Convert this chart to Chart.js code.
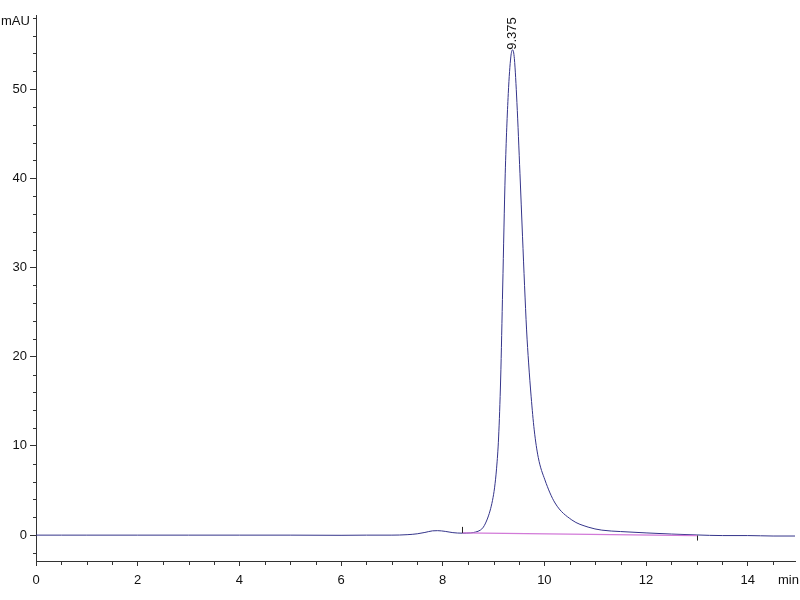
<!DOCTYPE html>
<html><head><meta charset="utf-8">
<script src="https://cdn.jsdelivr.net/npm/chart.js@4/dist/chart.umd.min.js"></script>
<style>html,body{margin:0;padding:0;background:#fff}#wrap{width:800px;height:600px}</style>
</head><body><div id="wrap"><canvas id="c" width="800" height="600"></canvas></div>
<script>
// Retention time (min) and signal (mAU)
const timeMin = [0, 0.5, 1, 2, 3, 4, 5, 6, 6.5, 7.0, 7.3, 7.5, 7.65, 7.8, 7.9, 8.05, 8.2, 8.38, 8.55, 8.65, 8.74, 8.8, 8.87, 8.93, 8.98, 9.02, 9.06, 9.1, 9.14, 9.18, 9.23, 9.29, 9.34, 9.375, 9.41, 9.46, 9.52, 9.57, 9.61, 9.65, 9.69, 9.74, 9.8, 9.88, 10.01, 10.21, 10.54, 10.86, 11.13, 11.5, 12.0, 12.5, 13.0, 13.5, 14.0, 14.5, 14.93];
const signal  = [0, 0, 0, 0, 0, 0, 0, -0.02, 0, 0, 0.05, 0.15, 0.3, 0.48, 0.5, 0.42, 0.28, 0.22, 0.25, 0.35, 0.56, 0.9, 1.7, 2.7, 3.9, 5.3, 7.5, 11.0, 17.5, 27.7, 40.5, 49.5, 53.6, 54.4, 53.4, 48.5, 40.5, 33.5, 28.0, 23.0, 19.3, 15.5, 11.8, 8.7, 6.2, 3.6, 1.7, 0.9, 0.56, 0.4, 0.25, 0.12, 0.02, -0.05, -0.05, -0.1, -0.1];
const baselineTime = [8.38, 13.0];
const baselineSignal = [0.25, -0.05];
const peakTimes = [9.375];
const peakLabels = ['9.375'];
const xMajorTicks = [0, 2, 4, 6, 8, 10, 12, 14];
const yMajorTicks = [0, 10, 20, 30, 40, 50];
const xUnit = 'min';
const yUnit = 'mAU';

const FONT = '"Liberation Sans Narrow", "Liberation Sans", Arial, sans-serif';
const mainData = timeMin.map((t, i) => ({x: t, y: signal[i]}));
const baseData = baselineTime.map((t, i) => ({x: t, y: baselineSignal[i]}));

const extras = {
  id: 'extras',
  afterDraw(chart) {
    const ctx = chart.ctx, xs = chart.scales.x, ys = chart.scales.y;
    const area = chart.chartArea;
    ctx.save();
    ctx.strokeStyle = '#333';
    ctx.lineWidth = 1;
    // minor ticks
    ctx.beginPath();
    for (let v = 0; v <= xs.max + 1e-9; v += 0.5) {
      if (Math.abs(v - Math.round(v / 2) * 2) < 1e-9) continue;
      const px = Math.round(xs.getPixelForValue(v)) + 0.5;
      ctx.moveTo(px, area.bottom); ctx.lineTo(px, area.bottom + 4);
    }
    for (let v = -2; v <= ys.max + 1e-9; v += 2) {
      if (v % 10 === 0) continue;
      const py = Math.round(ys.getPixelForValue(v)) + 0.5;
      ctx.moveTo(area.left - 3, py); ctx.lineTo(area.left, py);
    }
    ctx.stroke();
    // integration markers
    ctx.strokeStyle = '#222';
    ctx.beginPath();
    baselineTime.forEach((t, i) => {
      const px = Math.round(xs.getPixelForValue(t)) + 0.5;
      const py = ys.getPixelForValue(baselineSignal[i]);
      if (i === 0) { ctx.moveTo(px, py - 6); ctx.lineTo(px, py); }
      else { ctx.moveTo(px, py); ctx.lineTo(px, py + 5); }
    });
    ctx.stroke();
    // unit labels
    ctx.fillStyle = '#111';
    ctx.font = '13px ' + FONT;
    ctx.textBaseline = 'middle';
    ctx.textAlign = 'left';
    ctx.fillText(yUnit, 1, 21);
    ctx.fillText(xUnit, 778, 580);
    // peak labels
    peakTimes.forEach((t, i) => {
      let best = 0;
      timeMin.forEach((tt, j) => { if (Math.abs(tt - t) < 0.05) best = Math.max(best, signal[j]); });
      const px = xs.getPixelForValue(t);
      const py = ys.getPixelForValue(best);
      ctx.save();
      ctx.translate(px, py);
      ctx.rotate(-Math.PI / 2);
      ctx.textAlign = 'left';
      ctx.textBaseline = 'middle';
      ctx.font = '13px ' + FONT;
      ctx.fillText(peakLabels[i], 0, 0);
      ctx.restore();
    });
    ctx.restore();
  }
};

new Chart(document.getElementById('c'), {
  type: 'scatter',
  data: {
    datasets: [
      { data: baseData, showLine: true, borderColor: '#d27ad8', borderWidth: 1.2, pointRadius: 0, tension: 0 },
      { data: mainData, showLine: true, borderColor: '#34348a', borderWidth: 1, pointRadius: 0, cubicInterpolationMode: 'monotone' }
    ]
  },
  options: {
    responsive: false,
    animation: false,
    events: [],
    layout: { padding: { left: 0, right: 5, top: 15, bottom: 0 } },
    plugins: { legend: { display: false }, tooltip: { enabled: false } },
    scales: {
      x: {
        type: 'linear', min: 0, max: 14.93,
        afterBuildTicks: s => { s.ticks = xMajorTicks.map(v => ({value: v})); },
        afterFit: s => { s.height = 39; },
        grid: { display: true, drawOnChartArea: false, drawTicks: true, tickLength: 5, color: '#333' },
        border: { display: true, color: '#333', width: 1 },
        ticks: { color: '#111', font: { family: FONT, size: 13 }, padding: 7, maxRotation: 0 }
      },
      y: {
        type: 'linear', min: -2.9, max: 58.3,
        afterBuildTicks: s => { s.ticks = yMajorTicks.map(v => ({value: v})); },
        afterFit: s => { s.width = 36; },
        grid: { display: true, drawOnChartArea: false, drawTicks: true, tickLength: 6, color: '#333' },
        border: { display: true, color: '#333', width: 1 },
        ticks: { color: '#111', font: { family: FONT, size: 13 }, padding: 3 }
      }
    }
  },
  plugins: [extras]
});
</script>
</body></html>
